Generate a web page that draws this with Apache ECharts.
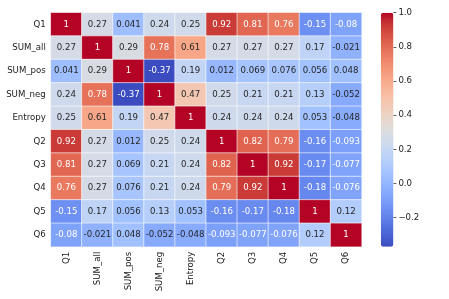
<!DOCTYPE html>
<html><head><meta charset="utf-8">
<script src="https://cdn.jsdelivr.net/npm/echarts@6/dist/echarts.min.js"></script>
<style>html,body{margin:0;padding:0;background:#fff}#c{width:449px;height:299px}</style>
</head><body><div id="c"></div>
<script>
const labels = ['Q1','SUM_all','SUM_pos','SUM_neg','Entropy','Q2','Q3','Q4','Q5','Q6'];
const rowQ1      = [1, 0.27, 0.041, 0.24, 0.25, 0.92, 0.81, 0.76, -0.15, -0.08];
const rowSUMall  = [0.27, 1, 0.29, 0.78, 0.61, 0.27, 0.27, 0.27, 0.17, -0.021];
const rowSUMpos  = [0.041, 0.29, 1, -0.37, 0.19, 0.012, 0.069, 0.076, 0.056, 0.048];
const rowSUMneg  = [0.24, 0.78, -0.37, 1, 0.47, 0.25, 0.21, 0.21, 0.13, -0.052];
const rowEntropy = [0.25, 0.61, 0.19, 0.47, 1, 0.24, 0.24, 0.24, 0.053, -0.048];
const rowQ2      = [0.92, 0.27, 0.012, 0.25, 0.24, 1, 0.82, 0.79, -0.16, -0.093];
const rowQ3      = [0.81, 0.27, 0.069, 0.21, 0.24, 0.82, 1, 0.92, -0.17, -0.077];
const rowQ4      = [0.76, 0.27, 0.076, 0.21, 0.24, 0.79, 0.92, 1, -0.18, -0.076];
const rowQ5      = [-0.15, 0.17, 0.056, 0.13, 0.053, -0.16, -0.17, -0.18, 1, 0.12];
const rowQ6      = [-0.08, -0.021, 0.048, -0.052, -0.048, -0.093, -0.077, -0.076, 0.12, 1];
const rows = [rowQ1,rowSUMall,rowSUMpos,rowSUMneg,rowEntropy,rowQ2,rowQ3,rowQ4,rowQ5,rowQ6];
const colorbarTicks = [-0.2, 0, 0.2, 0.4, 0.6, 0.8, 1.0];
const vmin = -0.37, vmax = 1;

// matplotlib coolwarm, 33 evenly spaced stops
const cw = [[59,76,192],[68,90,204],[77,104,215],[87,117,225],[98,130,234],[108,142,241],[119,154,247],[130,165,251],[141,176,254],[152,185,255],[163,194,255],[174,201,253],[184,208,249],[194,213,244],[204,217,238],[213,219,230],[221,221,221],[229,216,209],[236,211,197],[241,204,185],[245,196,173],[247,187,160],[247,177,148],[247,166,135],[244,154,123],[241,141,111],[236,127,99],[229,112,88],[222,96,77],[213,80,66],[203,62,56],[192,40,47],[180,4,38]];
const cwHex = cw.map(c => '#' + c.map(x => x.toString(16).padStart(2,'0')).join(''));
function cmap(v){
  let t = (v - vmin)/(vmax - vmin); t = Math.max(0, Math.min(1, t));
  const p = t*(cw.length-1), i = Math.min(Math.floor(p), cw.length-2), f = p - i;
  return cw[i].map((a,k)=> a + (cw[i+1][k]-a)*f);
}
function lum(c){
  const l = c.map(x => { x/=255; return x <= 0.03928 ? x/12.92 : Math.pow((x+0.055)/1.055, 2.4); });
  return 0.2126*l[0] + 0.7152*l[1] + 0.0722*l[2];
}
const data = [];
rows.forEach((r, yi) => r.forEach((v, xi) => {
  data.push({value:[xi, yi, v], label:{color: lum(cmap(v)) > 0.408 ? '#262626' : '#ffffff'}});
}));

const FONT = 'DejaVu Sans';
const chart = echarts.init(document.getElementById('c'), null, {renderer:'canvas'});
chart.setOption({
  animation:false,
  backgroundColor:'#fff',
  textStyle:{fontFamily:FONT},
  grid:[
    {left:50.8, top:12.7, width:310.8, height:234},
    {left:380.8, top:12.7, width:12.6, height:234}
  ],
  xAxis:[
    {type:'category', gridIndex:0, data:labels, position:'bottom',
     axisLine:{show:false}, axisTick:{show:false}, splitLine:{show:false},
     axisLabel:{rotate:90, margin:5, fontSize:8.6, color:'#222', fontFamily:FONT, interval:0}},
    {type:'category', gridIndex:1, data:['c'], show:false}
  ],
  yAxis:[
    {type:'category', gridIndex:0, data:labels, inverse:true,
     axisLine:{show:false}, axisTick:{show:false}, splitLine:{show:false},
     axisLabel:{margin:5, fontSize:8.6, color:'#222', fontFamily:FONT, interval:0}},
    {type:'value', gridIndex:1, min:vmin, max:vmax, position:'right',
     axisLine:{show:false}, splitLine:{show:false},
     axisTick:{show:true, length:3, inside:false, customValues:colorbarTicks, lineStyle:{color:'#333', width:0.8}},
     axisLabel:{customValues:colorbarTicks, margin:5, fontSize:8.6, color:'#222', fontFamily:FONT,
       formatter: v => (v < 0 ? '\u2212' : '') + Math.abs(v).toFixed(1)}}
  ],
  visualMap:{
    type:'continuous', seriesIndex:0, dimension:2, min:vmin, max:vmax,
    calculable:false, orient:'vertical', left:380.8, top:12.7, padding:0,
    itemWidth:12.6, itemHeight:234, text:null, showLabel:false,
    textStyle:{color:'rgba(0,0,0,0)', fontSize:1},
    inRange:{color:cwHex}
  },
  series:[{
    type:'heatmap', xAxisIndex:0, yAxisIndex:0, data:data,
    itemStyle:{borderColor:'#ffffff', borderWidth:0.6},
    label:{show:true, fontSize:8.6, fontFamily:FONT, formatter: p => String(p.value[2])},
    emphasis:{disabled:true}
  }]
});
</script></body></html>
